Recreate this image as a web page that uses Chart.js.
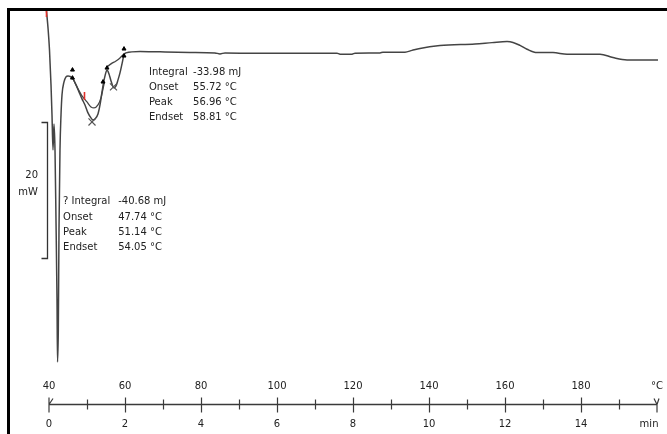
<!DOCTYPE html>
<html>
<head>
<meta charset="utf-8">
<script src="https://cdn.jsdelivr.net/npm/chart.js@4.4.1/dist/chart.umd.min.js"></script>
<style>
  html, body { margin: 0; padding: 0; background: #fff; }
  #wrap { position: relative; width: 667px; height: 434px; }
</style>
</head>
<body>
<div id="wrap"><canvas id="c" width="667" height="434"></canvas></div>
<script>
// ---- DATA (temperature in °C, heat flow in mW, relative) ----
const temperatureC = [39.34, 39.74, 40.13, 40.53, 40.79, 41.05, 41.32, 41.58, 41.84, 42.11, 42.24, 42.45, 42.63, 42.89,
  43.16, 43.42, 43.95, 44.47, 45.0, 45.53, 46.32, 47.11, 47.89, 48.68, 49.47, 50.26, 51.05, 51.58, 52.11, 52.89,
  53.42, 53.95, 54.34, 54.74, 55.26, 55.79, 56.32, 57.11, 57.63, 58.16, 58.68, 59.21, 59.74, 60.26,
  63.95, 69.21, 77.11, 83.68, 85.0, 86.32, 98.16, 106.05, 115.79, 116.58, 119.74, 120.53, 127.11, 127.89,
  133.68, 135.53, 137.63, 142.89, 152.11, 156.58, 160.53, 162.11, 163.95, 165.79, 168.42, 172.63, 176.32,
  185.0, 188.42, 192.11, 200.26];
const heatFlowMW = [6.18, 3.68, 0.44, -4.71, -9.12, -14.26, -10.44, -14.26, -24.56, -36.32, -45.44, -40.74, -26.03, -14.26,
  -9.12, -6.18, -4.26, -3.53, -3.38, -3.46, -3.82, -4.71, -5.74, -6.76, -7.65, -8.82, -9.56, -9.85, -9.71, -8.97,
  -7.65, -5.74, -4.41, -3.38, -2.5, -3.09, -4.12, -5.15, -4.85, -3.97, -2.94, -1.62, -0.29, 0,
  0.22, 0.15, 0.07, 0, -0.15, 0, -0.07, -0.04, -0.04, -0.19, -0.19, -0.04, 0, 0.1,
  0.1, 0.37, 0.66, 1.07, 1.32, 1.51, 1.66, 1.54, 1.10, 0.54, 0.04, 0.04, -0.19,
  -0.19, -0.69, -1.03, -1.03];

// integration baselines
const base1T = [46.32, 47.37, 48.68, 50.0, 51.05, 51.84, 52.89, 53.68, 54.21, 54.61];
const base1MW = [-3.82, -5.0, -6.32, -7.21, -7.94, -8.09, -7.65, -6.62, -5.29, -4.26];
const base2T = [55.26, 56.32, 57.63, 58.68, 59.74];
const base2MW = [-2.06, -1.62, -1.18, -0.74, -0.15];

// integration limit markers and peak crosses
const limitT = [46.18, 46.18, 54.21, 55.26, 59.74, 59.74];
const limitMW = [-2.5, -3.68, -4.26, -2.21, 0.59, -0.44];
const peakT = [51.32, 56.97];
const peakMW = [-10.15, -5.0];

// red cursor marks (pairs, null separates)
const cursorT = [39.34, 39.34, null, 49.34, 49.34];
const cursorMW = [6.18, 5.29, null, -5.74, -6.91];

// axis ticks
const tempTicks = [40, 60, 80, 100, 120, 140, 160, 180, 200];
const tempLabels = ['40', '60', '80', '100', '120', '140', '160', '180', '°C'];
const timeTicks = [0, 2, 4, 6, 8, 10, 12, 14, 16];
const timeLabels = ['0', '2', '4', '6', '8', '10', '12', '14', 'min'];

// scale bar
const scaleBarTopMW = -10.15;
const scaleBarSpanMW = 20;
const scaleBarText = ['20', 'mW'];

// annotations
const annot1 = [['Integral', '-33.98 mJ'], ['Onset', '55.72 °C'], ['Peak', '56.96 °C'], ['Endset', '58.81 °C']];
const annot2 = [['? Integral', '-40.68 mJ'], ['Onset', '47.74 °C'], ['Peak', '51.14 °C'], ['Endset', '54.05 °C']];
const annot1Pos = { labelT: 66.3, valueT: 77.9, mw: -2.9 };
const annot2Pos = { labelT: 43.7, valueT: 58.2, mw: -21.87 };

// ---- build ----
const zip = (xs, ys) => xs.map((x, i) => ({ x: x, y: ys[i] }));
const FONT = '"DejaVu Sans", sans-serif';
const TXT = '#222';

const overlay = {
  id: 'overlay',
  afterDraw(chart) {
    const ctx = chart.ctx;
    const xs = chart.scales.x, x2 = chart.scales.x2, ys = chart.scales.y;
    ctx.save();
    // frame (left & top)
    ctx.fillStyle = '#000';
    ctx.fillRect(7, 8, 3, 434 - 8);
    ctx.fillRect(7, 8, 667 - 7, 3);

    // axis line + ticks
    const ay = Math.round(x2.top) + 0.5;
    const xl = xs.getPixelForValue(40), xr = xs.getPixelForValue(200);
    ctx.strokeStyle = '#3a3a3a';
    ctx.lineWidth = 1.5;
    ctx.beginPath();
    ctx.moveTo(xl, ay); ctx.lineTo(xr, ay);
    ctx.stroke();
    ctx.lineWidth = 1.2;
    for (let m = 1; m < 16; m++) {
      const px = Math.round(x2.getPixelForValue(m)) + 0.5;
      const major = m % 2 === 0;
      ctx.beginPath();
      ctx.moveTo(px, ay - (major ? 7 : 5));
      ctx.lineTo(px, ay + (major ? 8 : 5));
      ctx.stroke();
    }
    // left end marker
    ctx.beginPath();
    ctx.moveTo(xl, ay - 7); ctx.lineTo(xl, ay + 8);
    ctx.moveTo(xl, ay); ctx.lineTo(xl + 4, ay - 6);
    ctx.stroke();
    // right end marker
    ctx.beginPath();
    ctx.moveTo(xr, ay); ctx.lineTo(xr, ay + 8);
    ctx.moveTo(xr - 3, ay - 6); ctx.lineTo(xr, ay);
    ctx.moveTo(xr + 2, ay - 6); ctx.lineTo(xr, ay);
    ctx.stroke();

    // scale bar
    const sTop = Math.round(ys.getPixelForValue(scaleBarTopMW)) + 0.5;
    const sBot = Math.round(ys.getPixelForValue(scaleBarTopMW - scaleBarSpanMW)) + 0.5;
    const sx = xl - 1.5;
    ctx.strokeStyle = '#333';
    ctx.lineWidth = 1.3;
    ctx.beginPath();
    ctx.moveTo(sx - 6, sTop); ctx.lineTo(sx, sTop); ctx.lineTo(sx, sBot); ctx.lineTo(sx - 6, sBot);
    ctx.stroke();
    ctx.fillStyle = TXT;
    ctx.font = '10px ' + FONT;
    ctx.textAlign = 'right';
    ctx.textBaseline = 'middle';
    const sMid = (sTop + sBot) / 2;
    ctx.fillText(scaleBarText[0], 38, sMid - 15);
    ctx.fillText(scaleBarText[1], 38, sMid + 2);

    // annotations
    ctx.textAlign = 'left';
    const drawBlock = (rows, pos, gap) => {
      const lx = xs.getPixelForValue(pos.labelT);
      const vx = xs.getPixelForValue(pos.valueT);
      const y0 = ys.getPixelForValue(pos.mw);
      rows.forEach((r, i) => {
        ctx.fillText(r[0], lx, y0 + i * gap);
        ctx.fillText(r[1], vx, y0 + i * gap);
      });
    };
    drawBlock(annot1, annot1Pos, 14.8);
    drawBlock(annot2, annot2Pos, 15.3);
    ctx.restore();
  }
};

const fixPad = (h) => (s) => { s.height = h; s.paddingLeft = 0; s.paddingRight = 0; };

new Chart(document.getElementById('c'), {
  type: 'line',
  data: {
    datasets: [
      { label: 'DSC', data: zip(temperatureC, heatFlowMW), borderColor: '#444', borderWidth: 1.5,
        pointRadius: 0, cubicInterpolationMode: 'monotone', clip: false, order: 3 },
      { label: 'Baseline 1', data: zip(base1T, base1MW), borderColor: '#444', borderWidth: 1.3,
        pointRadius: 0, cubicInterpolationMode: 'monotone', clip: false, order: 2 },
      { label: 'Baseline 2', data: zip(base2T, base2MW), borderColor: '#444', borderWidth: 1.3,
        pointRadius: 0, cubicInterpolationMode: 'monotone', clip: false, order: 2 },
      { label: 'Limits', data: zip(limitT, limitMW), showLine: false, pointStyle: 'triangle',
        pointRadius: 2.3, pointBackgroundColor: '#000', pointBorderColor: '#000', clip: false, order: 1 },
      { label: 'Peaks', data: zip(peakT, peakMW), showLine: false, pointStyle: 'crossRot',
        pointRadius: 5, pointBorderColor: '#555', pointBorderWidth: 1.2, clip: false, order: 1 },
      { label: 'Cursor', data: cursorT.map((t, i) => ({ x: t, y: cursorMW[i] })), borderColor: '#e0302a',
        borderWidth: 1.6, pointRadius: 0, spanGaps: false, clip: false, order: 0 }
    ]
  },
  options: {
    responsive: false,
    animation: false,
    devicePixelRatio: 1,
    layout: { padding: { left: 45.2, right: 10, top: 8, bottom: 0 } },
    plugins: { legend: { display: false }, tooltip: { enabled: false } },
    scales: {
      x: {
        type: 'linear', position: 'bottom', weight: 0, min: 39, max: 200,
        afterBuildTicks: s => { s.ticks = tempTicks.map(v => ({ value: v })); },
        afterFit: fixPad(28),
        grid: { display: false, drawTicks: false }, border: { display: false },
        ticks: { autoSkip: false, maxRotation: 0, padding: 4, color: TXT,
          font: { family: FONT, size: 10 },
          callback: v => tempLabels[tempTicks.indexOf(v)] }
      },
      x2: {
        type: 'linear', position: 'bottom', weight: 1, min: -0.1, max: 16,
        afterBuildTicks: s => { s.ticks = timeTicks.map(v => ({ value: v })); },
        afterFit: fixPad(30),
        grid: { display: false, drawTicks: false }, border: { display: false },
        ticks: { autoSkip: false, maxRotation: 0, padding: 14, color: TXT,
          font: { family: FONT, size: 10 },
          callback: v => { const l = timeLabels[timeTicks.indexOf(v)]; return l === 'min' ? l + '     ' : l; } }
      },
      y: { type: 'linear', display: false, min: -47.5, max: 6.6 }
    }
  },
  plugins: [overlay]
});
</script>
</body>
</html>
